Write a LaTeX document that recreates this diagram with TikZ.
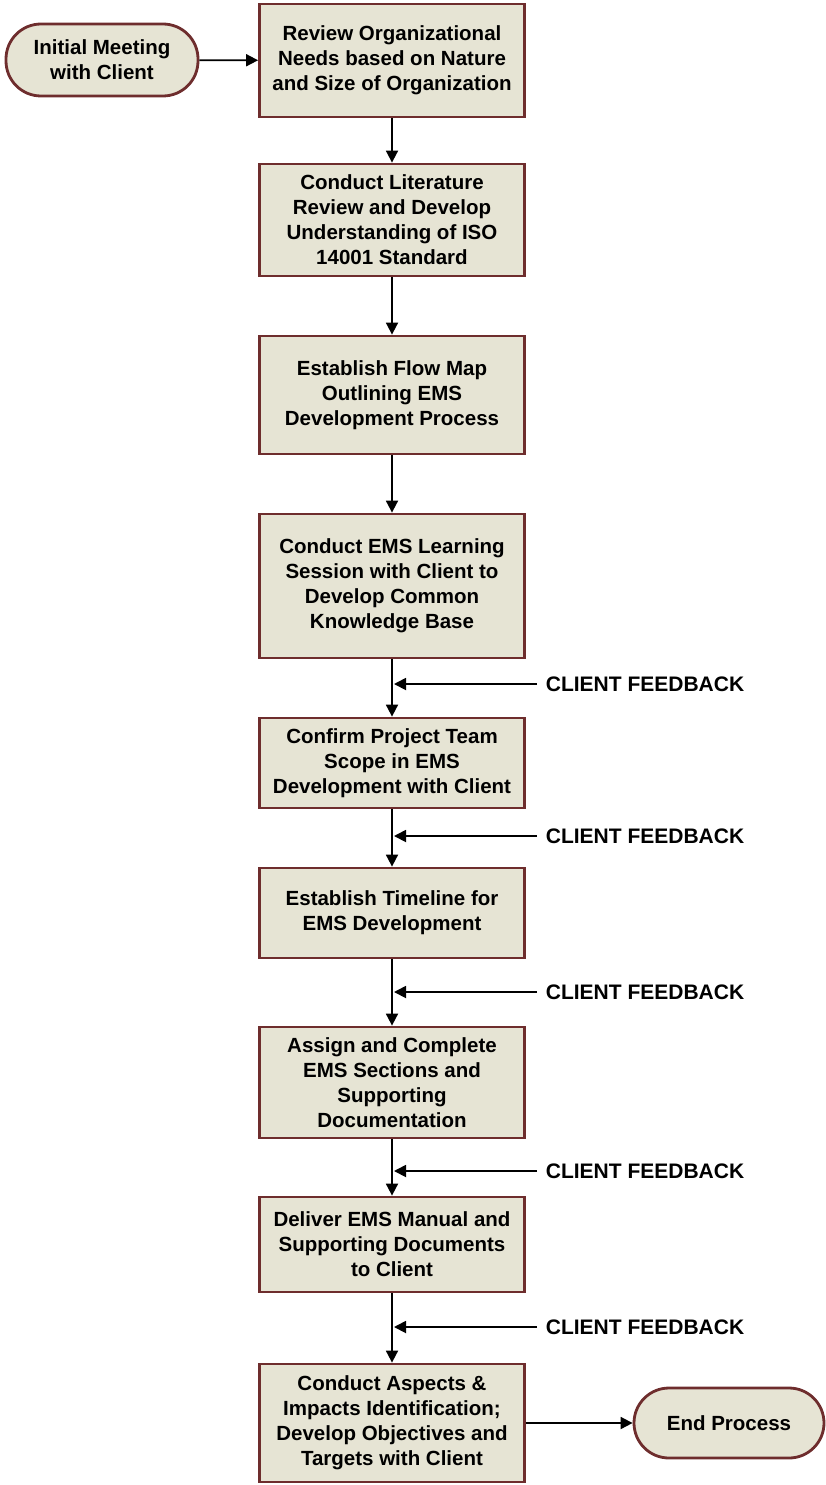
\documentclass[tikz,border=0pt]{standalone}
\usepackage{fontspec}
\setmainfont{Liberation Sans}
\usetikzlibrary{arrows.meta}
\usetikzlibrary{positioning}
\definecolor{boxfill}{RGB}{230,228,212}
\definecolor{boxline}{RGB}{110,45,45}
\tikzstyle{stepbox}=[rectangle, draw=boxline, fill=boxfill, line width=2.8pt, minimum width=265pt, align=center, font=\bfseries\fontsize{20.5}{25}\selectfont, inner sep=1pt]
\tikzstyle{terminal}=[rectangle, rounded corners=35pt, draw=boxline, fill=boxfill, line width=2.8pt, minimum width=190pt, minimum height=70pt, align=center, font=\bfseries\fontsize{20.5}{25}\selectfont]
\tikzstyle{feedback}=[anchor=west, inner sep=0pt, font=\bfseries\fontsize{21}{24}\selectfont]
\tikzset{>={Triangle[length=12pt,width=12pt]}}

\begin{document}
\begin{tikzpicture}[x=1pt, y=-1pt, line width=1.8pt]
      \useasboundingbox (0, 0) rectangle (826, 1485);

      \draw node at (102, 60) [terminal, minimum width=192pt, minimum height=72pt] (start) {Initial Meeting\\with Client};
      \draw node at (392, 60.5) [stepbox, minimum height=113pt] (review) {Review Organizational\\Needs based on Nature\\and Size of Organization};
      \draw node at (392, 220) [stepbox, minimum height=112pt] (lit) {Conduct Literature\\Review and Develop\\Understanding of ISO\\14001 Standard};
      \draw node at (392, 395) [stepbox, minimum height=118pt] (flow) {Establish Flow Map\\Outlining EMS\\Development Process};
      \draw node at (392, 586) [stepbox, minimum height=144pt] (learn) {Conduct EMS Learning\\Session with Client to\\Develop Common\\Knowledge Base};
      \draw node at (392, 763) [stepbox, minimum height=90pt] (scope) {Confirm Project Team\\Scope in EMS\\Development with Client};
      \draw node at (392, 913) [stepbox, minimum height=90pt] (time) {Establish Timeline for\\EMS Development};
      \draw node at (392, 1082.5) [stepbox, minimum height=111pt] (assign) {Assign and Complete\\EMS Sections and\\Supporting\\Documentation};
      \draw node at (392, 1244.5) [stepbox, minimum height=95pt] (deliver) {Deliver EMS Manual and\\Supporting Documents\\to Client};
      \draw node at (392, 1423) [stepbox, minimum height=118pt] (aspects) {Conduct Aspects \& \\Impacts Identification;\\Develop Objectives and\\Targets with Client};
      \draw node at (729, 1423) [terminal] (stop) {End Process};

      \draw [->] (start) to (review);
      \draw [->] (review) to (lit);
      \draw [->] (lit) to (flow);
      \draw [->] (flow) to (learn);
      \draw [->] (learn) to (scope);
      \draw [->] (scope) to (time);
      \draw [->] (time) to (assign);
      \draw [->] (assign) to (deliver);
      \draw [->] (deliver) to (aspects);
      \draw [->] (aspects) to (stop);

      % client feedback into the flow
      \foreach \y [count=\i] in {684, 836, 992, 1171, 1327} {
        \node at (545, \y) [feedback] (fb\i) {CLIENT FEEDBACK};
        \coordinate (join\i) at (394, \y);
        \draw [->] ([xshift=-8pt]fb\i.west) to (join\i);
      }
\end{tikzpicture}
\end{document}
